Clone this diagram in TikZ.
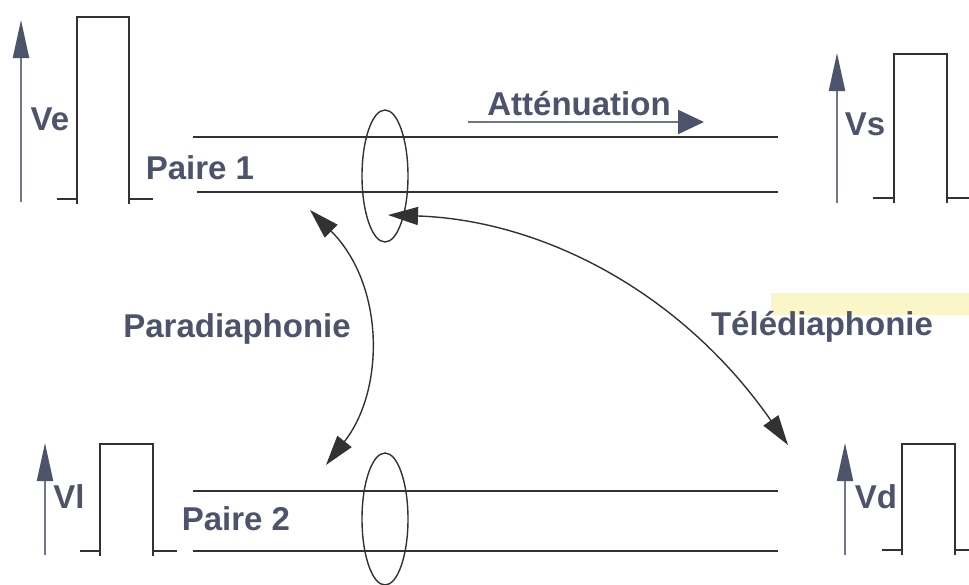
\documentclass[tikz,border=0pt]{standalone}
\usepackage{fontspec}
\setmainfont{Liberation Sans}
\usetikzlibrary{shapes.geometric,arrows.meta}

\definecolor{ardoise}{RGB}{76,83,107}
\definecolor{trait}{RGB}{50,50,50}
\definecolor{surligne}{RGB}{250,246,200}

\begin{document}
\begin{tikzpicture}[x=0.5pt,y=-0.5pt]
    \tikzset{signal/.style   = {line width=1pt, trait},
        paire/.style     = {line width=1.1pt, trait},
        fltension/.style = {line width=1.1pt, draw=ardoise!80,
            -{Triangle[length=19pt,width=8pt,color=ardoise]}},
        texte/.style     = {font=\bfseries\fontsize{16.5}{18}\selectfont,
            text=ardoise, inner sep=0pt, anchor=base},
        anneau/.style    = {draw=trait, line width=0.7pt, ellipse,
            inner sep=0pt, minimum width=23pt, minimum height=66pt},
        diaphonie/.style = {line width=0.7pt, trait,
            {Triangle[length=15pt,width=9pt]}-{Triangle[length=15pt,width=9pt]}}}

    \useasboundingbox (0,0) rectangle (969,584);

    % Highlight behind the far-end label.
    \fill[surligne] (771,293) rectangle (969,315);

    % Draw the two pairs.
    \draw[paire] (193,137) -- (778,137);
    \draw[paire] (197,192) -- (778,192);
    \draw[paire] (193,491) -- (778,491);
    \draw[paire] (193,551) -- (778,551);
    \node[anneau] (anneau1) at (385,176) {};
    \node[anneau] (anneau2) at (385,519) {};
    \node[texte] (paire1) at (200,179) {Paire 1};
    \node[texte] (paire2) at (236,530) {Paire 2};

    % Draw the pulses.
    \draw[signal] (57,199) -- (77,199) (77,204) -- (77,17) -- (129,17) -- (129,204) (129,199) -- (153,199);
    \draw[signal] (873,198) -- (894,198) (894,203) -- (894,54) -- (947,54) -- (947,203) (947,198) -- (969,198);
    \draw[signal] (80,551) -- (100,551) (100,556) -- (100,444) -- (153,444) -- (153,556) (153,551) -- (177,551);
    \draw[signal] (882,550) -- (902,550) (902,555) -- (902,444) -- (955,444) -- (955,555) (955,550) -- (969,550);

    % Draw the voltages.
    \coordinate (ve-bas) at (21,202);  \coordinate (ve-haut) at (21,20);
    \coordinate (vs-bas) at (837,203); \coordinate (vs-haut) at (837,53);
    \coordinate (vl-bas) at (45,555);  \coordinate (vl-haut) at (45,443);
    \coordinate (vd-bas) at (845,555); \coordinate (vd-haut) at (845,443);
    \draw[fltension] (ve-bas) -- (ve-haut);
    \draw[fltension] (vs-bas) -- (vs-haut);
    \draw[fltension] (vl-bas) -- (vl-haut);
    \draw[fltension] (vd-bas) -- (vd-haut);
    \node[texte] (ve) at (50,130)  {Ve};
    \node[texte] (vs) at (865,135) {Vs};
    \node[texte] (vl) at (69,508)  {Vl};
    \node[texte] (vd) at (876,508) {Vd};

    % Attenuation along pair 1.
    \coordinate (att-debut) at (468,122);
    \coordinate (att-fin)   at (704,122);
    \draw[line width=1.1pt, draw=ardoise!80,
        -{Triangle[length=13pt,width=12pt,color=ardoise]}] (att-debut) -- (att-fin);
    \node[texte] (att) at (579,115) {Atténuation};

    % Crosstalk arrows.
    \coordinate (next-haut) at (310,210);
    \coordinate (next-bas)  at (326,465);
    \coordinate (fext-haut) at (388,215);
    \coordinate (fext-bas)  at (788,445);
    \draw[diaphonie] (next-haut) .. controls (385,285) and (385,390) .. (next-bas);
    \draw[diaphonie] (fext-haut) .. controls (540,220) and (680,290) .. (fext-bas);
    \node[texte] (next) at (237,337) {Paradiaphonie};
    \node[texte] (fext) at (822,335) {Télédiaphonie};
\end{tikzpicture}
\end{document}
